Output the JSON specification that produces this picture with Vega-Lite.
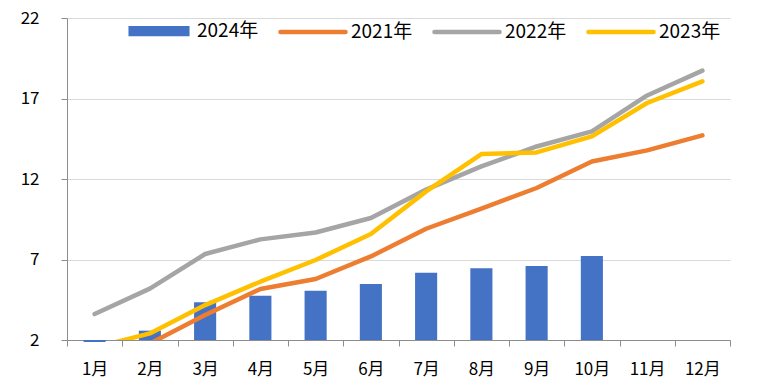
{
  "$schema": "https://vega.github.io/schema/vega-lite/v6.json",
  "width": 663,
  "height": 322,
  "autosize": {"type": "none"},
  "padding": {"left": 67, "top": 18, "right": 34, "bottom": 45},
  "background": "white",
  "config": {"font": "Noto Sans CJK SC", "view": {"stroke": null}},
  "data": {
    "values": [
      {"month": "1月", "year": "2024年", "value": 1.87},
      {"month": "2月", "year": "2024年", "value": 2.58},
      {"month": "3月", "year": "2024年", "value": 4.34},
      {"month": "4月", "year": "2024年", "value": 4.75},
      {"month": "5月", "year": "2024年", "value": 5.06},
      {"month": "6月", "year": "2024年", "value": 5.48},
      {"month": "7月", "year": "2024年", "value": 6.18},
      {"month": "8月", "year": "2024年", "value": 6.45},
      {"month": "9月", "year": "2024年", "value": 6.6},
      {"month": "10月", "year": "2024年", "value": 7.22},
      {"month": "1月", "year": "2021年", "value": 0.9},
      {"month": "2月", "year": "2021年", "value": 1.78},
      {"month": "3月", "year": "2021年", "value": 3.55},
      {"month": "4月", "year": "2021年", "value": 5.17},
      {"month": "5月", "year": "2021年", "value": 5.79},
      {"month": "6月", "year": "2021年", "value": 7.19},
      {"month": "7月", "year": "2021年", "value": 8.91},
      {"month": "8月", "year": "2021年", "value": 10.16},
      {"month": "9月", "year": "2021年", "value": 11.44},
      {"month": "10月", "year": "2021年", "value": 13.09},
      {"month": "11月", "year": "2021年", "value": 13.78},
      {"month": "12月", "year": "2021年", "value": 14.71},
      {"month": "1月", "year": "2022年", "value": 3.61},
      {"month": "2月", "year": "2022年", "value": 5.19},
      {"month": "3月", "year": "2022年", "value": 7.34},
      {"month": "4月", "year": "2022年", "value": 8.25},
      {"month": "5月", "year": "2022年", "value": 8.68},
      {"month": "6月", "year": "2022年", "value": 9.58},
      {"month": "7月", "year": "2022年", "value": 11.34},
      {"month": "8月", "year": "2022年", "value": 12.78},
      {"month": "9月", "year": "2022年", "value": 14.02},
      {"month": "10月", "year": "2022年", "value": 14.96},
      {"month": "11月", "year": "2022年", "value": 17.19},
      {"month": "12月", "year": "2022年", "value": 18.73},
      {"month": "1月", "year": "2023年", "value": 1.53},
      {"month": "2月", "year": "2023年", "value": 2.41},
      {"month": "3月", "year": "2023年", "value": 4.17},
      {"month": "4月", "year": "2023年", "value": 5.62},
      {"month": "5月", "year": "2023年", "value": 6.97},
      {"month": "6月", "year": "2023年", "value": 8.58},
      {"month": "7月", "year": "2023年", "value": 11.23},
      {"month": "8月", "year": "2023年", "value": 13.55},
      {"month": "9月", "year": "2023年", "value": 13.65},
      {"month": "10月", "year": "2023年", "value": 14.65},
      {"month": "11月", "year": "2023年", "value": 16.72},
      {"month": "12月", "year": "2023年", "value": 18.06}
    ]
  },
  "encoding": {
    "x": {
      "field": "month",
      "type": "nominal",
      "scale": {
        "domain": ["1月", "2月", "3月", "4月", "5月", "6月", "7月", "8月", "9月", "10月", "11月", "12月"],
        "paddingInner": 0,
        "paddingOuter": 0
      },
      "axis": {
        "title": null,
        "labelAngle": 0,
        "labelFontSize": 17,
        "labelColor": "#000000",
        "labelPadding": 15,
        "tickBand": "extent",
        "tickSize": 6,
        "tickColor": "#8c8c8c",
        "domainColor": "#8c8c8c",
        "grid": false
      }
    },
    "y": {
      "field": "value",
      "type": "quantitative",
      "scale": {"domain": [2, 22], "zero": false, "nice": false},
      "axis": {
        "title": null,
        "values": [2, 7, 12, 17, 22],
        "grid": true,
        "gridColor": "#d9d9d9",
        "gridWidth": 1,
        "labelFontSize": 17,
        "labelColor": "#000000",
        "labelPadding": 22,
        "tickSize": 6,
        "tickColor": "#8c8c8c",
        "domainColor": "#8c8c8c"
      }
    },
    "color": {
      "field": "year",
      "type": "nominal",
      "scale": {
        "domain": ["2024年", "2021年", "2022年", "2023年"],
        "range": ["#4472C4", "#ED7D31", "#A5A5A5", "#FFC000"]
      },
      "legend": {
        "orient": "none",
        "legendX": 57,
        "legendY": -22,
        "direction": "horizontal",
        "columns": 4,
        "title": null,
        "padding": 0,
        "symbolSize": 4225,
        "labelFontSize": 19,
        "labelColor": "#000000",
        "labelOffset": 3,
        "columnPadding": 12,
        "symbolStrokeWidth": 4.5,
        "encode": {
          "symbols": {
            "update": {
              "shape": {"signal": "datum.value === '2024年' ? 'M-0.87,-0.085H0.87V0.085H-0.87Z' : 'stroke'"},
              "fill": {"signal": "datum.value === '2024年' ? '#4472C4' : 'transparent'"},
              "stroke": {"signal": "datum.value === '2024年' ? '#4472C4' : (datum.value === '2021年' ? '#ED7D31' : (datum.value === '2022年' ? '#A5A5A5' : '#FFC000'))"},
              "strokeCap": {"signal": "datum.value === '2024年' ? 'butt' : 'round'"},
              "opacity": {"value": 1},
              "fillOpacity": {"value": 1},
              "strokeOpacity": {"value": 1}
            }
          }
        }
      }
    }
  },
  "layer": [
    {
      "transform": [{"filter": "datum.year === '2024年'"}],
      "mark": {"type": "bar", "width": {"band": 0.4}},
      "encoding": {"y2": {"datum": 2}}
    },
    {
      "transform": [{"filter": "datum.year !== '2024年'"}],
      "mark": {"type": "line", "strokeWidth": 4.5, "clip": true, "strokeCap": "round", "strokeJoin": "round"}
    }
  ]
}
